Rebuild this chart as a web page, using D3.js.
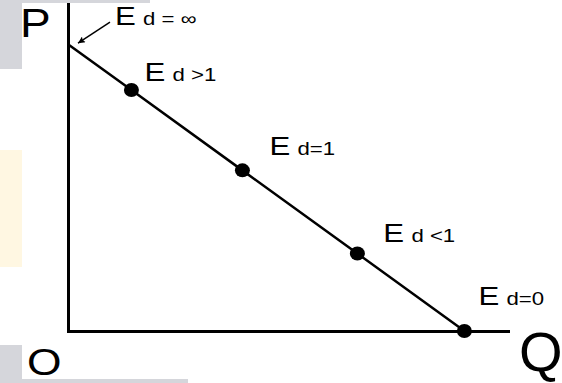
<!DOCTYPE html>
<meta charset="utf-8">
<style>
  body { margin: 0; background: #fff; }
  svg { display: block; }
  text { font-family: "Liberation Sans", Arial, sans-serif; fill: #000; }
  .axis path { stroke: #000; stroke-width: 3px; stroke-linecap: square; }
  .axis line, .axis text { display: none; }
</style>
<script src="https://d3js.org/d3.v7.min.js"></script>
<div id="chart"></div>
<script>
// demand curve points (quantity, price) and elasticity labels
var quantity = [0, 16, 44, 73, 100];
var price = [100, 84, 56, 27, 0];
var elasticity = ["d = \u221e", "d >1", "d=1", "d <1", "d=0"];
var axisMax = { q: 111, p: 114 };
var axisLabels = { p: "P", q: "Q", o: "O" };

var width = 562, height = 383;

var svg = d3.select("#chart").append("svg")
    .attr("width", width)
    .attr("height", height);

// grey / cream blocks from the slide background
svg.append("rect").attr("x", 0).attr("y", 0).attr("width", 22).attr("height", 69).attr("fill", "#d5d6db");
svg.append("rect").attr("x", 0).attr("y", 0).attr("width", 150).attr("height", 3).attr("fill", "#d5d6db");
svg.append("rect").attr("x", 0).attr("y", 150).attr("width", 22).attr("height", 117).attr("fill", "#fff7e2");
svg.append("rect").attr("x", 0).attr("y", 345).attr("width", 22).attr("height", 38).attr("fill", "#d5d6db");
svg.append("rect").attr("x", 0).attr("y", 379).attr("width", 188).attr("height", 4).attr("fill", "#d5d6db");

var x = d3.scaleLinear().domain([0, axisMax.q]).range([68, 508]);
var y = d3.scaleLinear().domain([0, axisMax.p]).range([331, 4]);

// axes (no ticks)
svg.append("g").attr("class", "axis")
    .attr("transform", "translate(68,0)")
    .call(d3.axisLeft(y).tickValues([]).tickSizeOuter(0));
svg.append("g").attr("class", "axis")
    .attr("transform", "translate(0,331)")
    .call(d3.axisBottom(x).tickValues([]).tickSizeOuter(0));

var pts = quantity.map(function(q, i) { return { q: q, p: price[i], label: elasticity[i] }; });

// demand line
svg.append("path")
    .datum(pts)
    .attr("fill", "none")
    .attr("stroke", "#000")
    .attr("stroke-width", 2.5)
    .attr("d", d3.line().x(function(d) { return x(d.q); }).y(function(d) { return y(d.p); }));

// dots (not on the price intercept)
svg.selectAll("ellipse.pt")
    .data(pts.slice(1))
    .enter().append("ellipse")
    .attr("class", "pt")
    .attr("cx", function(d) { return x(d.q); })
    .attr("cy", function(d) { return y(d.p); })
    .attr("rx", 7.5)
    .attr("ry", 7)
    .attr("fill", "#000");

// arrow to the intercept
svg.append("defs").append("marker")
    .attr("id", "head")
    .attr("viewBox", "0 0 10 10")
    .attr("refX", 10).attr("refY", 5)
    .attr("markerWidth", 10).attr("markerHeight", 7)
    .attr("markerUnits", "userSpaceOnUse")
    .attr("orient", "auto")
  .append("path")
    .attr("d", "M0,0L10,5L0,10L2,5Z")
    .attr("fill", "#000");

svg.append("line")
    .attr("x1", x(pts[0].q) + 42).attr("y1", y(pts[0].p) - 22)
    .attr("x2", x(pts[0].q) + 10).attr("y2", y(pts[0].p) - 1)
    .attr("stroke", "#000")
    .attr("stroke-width", 1.5)
    .attr("marker-end", "url(#head)");

// label offsets from each point
var labelOffsets = [[47, -19], [13, -9], [27, -15], [26, -12], [14, -26]];

var labels = svg.selectAll("text.el")
    .data(pts)
    .enter().append("text")
    .attr("class", "el")
    .attr("transform", function(d, i) {
        return "translate(" + (x(d.q) + labelOffsets[i][0]) + "," + (y(d.p) + labelOffsets[i][1]) + ") scale(1.2,1)";
    });
labels.append("tspan").attr("font-size", "26px").text("E");
labels.append("tspan").attr("font-size", "18.5px").attr("dx", 6).text(function(d) { return d.label; });

// axis letters
svg.append("text").attr("transform", "translate(20,37) scale(1.15,1)")
    .attr("font-size", "40px").text(axisLabels.p);
svg.append("text").attr("transform", "translate(27,375) scale(1.2,1)")
    .attr("font-size", "37px").text(axisLabels.o);
svg.append("text").attr("transform", "translate(519,371)")
    .attr("font-family", "Roboto, 'Open Sans', sans-serif")
    .attr("font-weight", 300)
    .attr("font-size", "56px").text(axisLabels.q);
</script>
